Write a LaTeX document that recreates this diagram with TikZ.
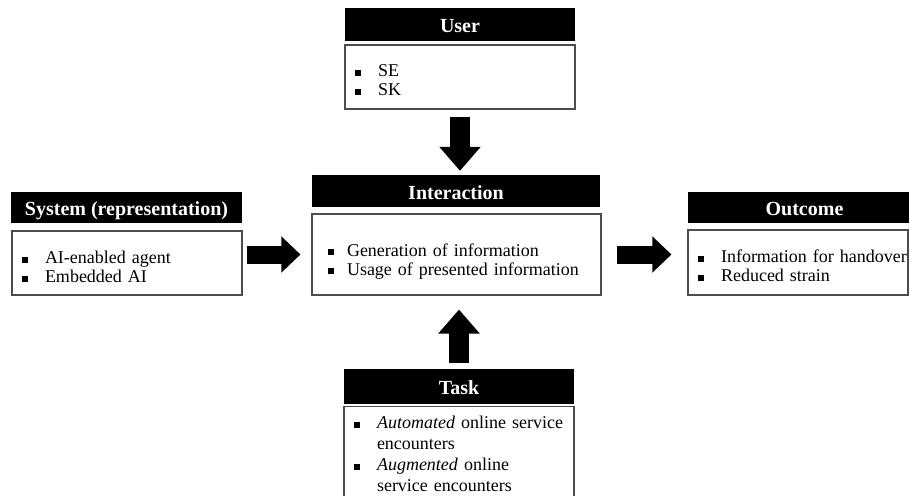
\documentclass[tikz,border=0pt]{standalone}
\usepackage{fontspec}
\setmainfont{Liberation Serif}
\usetikzlibrary{arrows.meta,calc}
% square bullet followed by the hanging-indent gap
\newcommand{\bulletbox}[1][23pt]{\makebox[#1][l]{\rule[1pt]{6pt}{6pt}}}
\begin{document}
\begin{tikzpicture}[x=1pt,y=-1pt,
  headbox/.style={fill=black, text=white, inner sep=0pt,
    text height=19pt, text depth=3pt,
    font=\fontsize{20}{24}\selectfont\bfseries},
  bodybox/.style={draw=black!70, line width=1.1pt, fill=white, align=left,
    inner xsep=10pt, inner ysep=0pt, font=\fontsize{18}{19}\selectfont},
  % a taller first-line strut pushes the centred text block downwards
  lowered/.style={execute at begin node={\rule{0pt}{#1}}},
  vblock/.style={line width=20pt, -{Triangle[width=40pt,length=24pt]}},
  hblock/.style={line width=18pt, -{Triangle[width=35pt,length=19pt]}}
]
\useasboundingbox (0,0) rectangle (909,495);
\clip (0,0) rectangle (909,495);

% User
\node[headbox, minimum width=230pt, minimum height=33pt] (userhead) at (460,24.5) {User};
\node[bodybox, lowered=18.5pt, text width=210pt, minimum height=64pt] (userbody) at (460,77)
  {\bulletbox SE\\\bulletbox SK};

% Interaction
\node[headbox, minimum width=288pt, minimum height=32pt] (inthead) at (456,191) {Interaction};
\node[bodybox, lowered=26pt, inner xsep=16pt, text width=257pt, minimum height=81pt] (intbody) at (456.5,254.5)
  {\bulletbox[19pt]Generation of information\\\bulletbox[19pt]Usage of presented information};

% System
\node[headbox, minimum width=231pt, minimum height=31pt] (syshead) at (126.5,207.5) {System (representation)};
\node[bodybox, lowered=21pt, text width=210pt, minimum height=64pt] (sysbody) at (127,263)
  {\bulletbox AI-enabled agent\\\bulletbox Embedded AI};

% Outcome
\node[headbox, minimum width=233pt, minimum height=31pt] (outhead) at (804.5,207.5) {Outcome};
\node[bodybox, lowered=20pt, text width=200pt, minimum height=65pt] (outbody) at (798,262.5)
  {\mbox{\bulletbox Information for handover}\\\bulletbox Reduced strain};

% Task
\node[headbox, minimum width=230pt, minimum height=35pt] (taskhead) at (459,386.5) {Task};
\node[bodybox, text width=210pt, inner ysep=9.5pt, anchor=north,
  font=\fontsize{18}{21}\selectfont] (taskbody) at (459,406)
  {\bulletbox\textit{Automated} online service\\\hspace*{23pt}encounters\\
   \bulletbox\textit{Augmented} online\\\hspace*{23pt}service encounters};

% block arrows into the interaction box
\draw[vblock, shorten <=7pt, shorten >=4pt] (userbody.south) -- (userbody.south |- inthead.north);
\draw[vblock, shorten <=6pt, shorten >=14pt] (taskhead.north) -- (taskhead.north |- intbody.south);
\draw[hblock, shorten <=4pt, shorten >=11pt] (sysbody.east |- intbody.west) -- (intbody.west);
\draw[hblock, shorten <=15pt, shorten >=16pt] (intbody.east) -- (intbody.east -| outbody.west);
\end{tikzpicture}
\end{document}
